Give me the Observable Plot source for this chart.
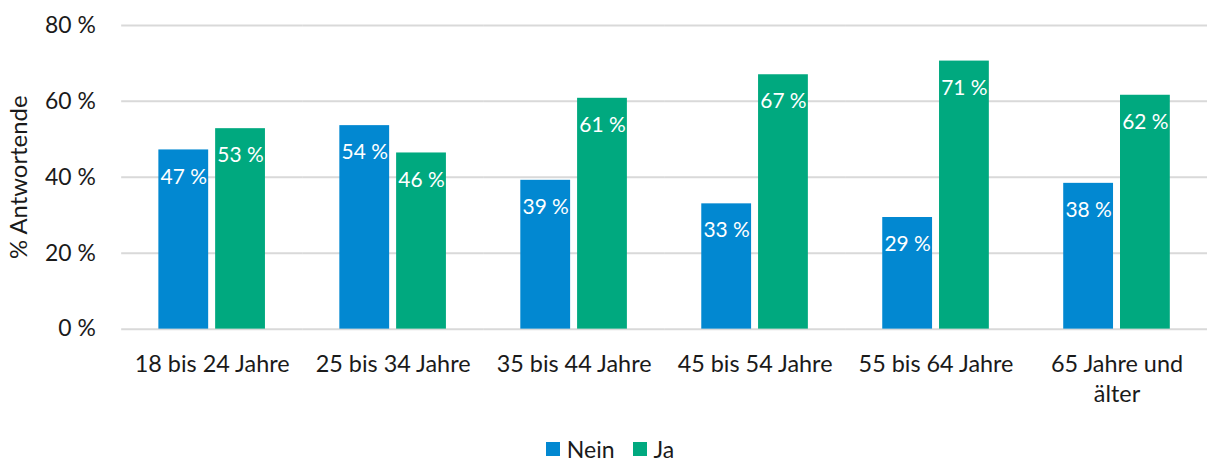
<!DOCTYPE html>
<html>
<head>
<meta charset="utf-8">
<script src="https://cdn.jsdelivr.net/npm/d3@7"></script>
<script src="https://cdn.jsdelivr.net/npm/@observablehq/plot@0.6"></script>
<style>
  html, body { margin: 0; padding: 0; background: #fff; }
  #wrap { width: 1207px; height: 464px; overflow: hidden; position: relative; font-family: Lato, sans-serif; }
  #legend { position: absolute; top: 437px; left: 0; width: 1220px; height: 24px; line-height: 24px; display: flex; justify-content: center; align-items: center; font-size: 23px; color: #1a1a1a; }
  .item { display: flex; align-items: center; margin: 0 9px; }
  .sw { width: 14px; height: 14px; margin-right: 7px; }
</style>
</head>
<body>
<div id="wrap"><div id="chart"></div><div id="legend"></div></div>
<script>
const groups = ["18 bis 24 Jahre", "25 bis 34 Jahre", "35 bis 44 Jahre", "45 bis 54 Jahre", "55 bis 64 Jahre", "65 Jahre und älter"];
const groupLabels = ["18 bis 24 Jahre", "25 bis 34 Jahre", "35 bis 44 Jahre", "45 bis 54 Jahre", "55 bis 64 Jahre", "65 Jahre und\nälter"];
const series = ["Nein", "Ja"];
const nein = [47.2, 53.6, 39.2, 33.0, 29.4, 38.4];
const ja = [52.8, 46.4, 60.8, 67.0, 70.6, 61.6];
const colors = ["#0288d1", "#00a97f"];
const yTicks = [0, 20, 40, 60, 80];

const data = [];
groups.forEach((g, i) => {
  data.push({group: g, answer: series[0], value: nein[i]});
  data.push({group: g, answer: series[1], value: ja[i]});
});

const chart = Plot.plot({
  width: 1212,
  height: 420,
  marginLeft: 121.67,
  marginRight: 0,
  marginTop: 25,
  marginBottom: 90,
  style: {fontFamily: "Lato, sans-serif", fontSize: "22px", color: "#1a1a1a", background: "#fff"},
  fx: {domain: groups, padding: 0, round: false, label: null},
  x: {domain: series, paddingInner: 0.1228, paddingOuter: 0.655, round: false, axis: null},
  y: {domain: [0, 80], label: null},
  color: {domain: series, range: colors},
  marks: [
    Plot.gridY(yTicks, {stroke: "#d9d9d9", strokeOpacity: 1, strokeWidth: 2}),
    Plot.barY(data, {fx: "group", x: "answer", y: "value", fill: "answer"}),
    Plot.text(data, {fx: "group", x: "answer", y: "value", text: d => Math.round(d.value) + " %", dy: 27, fill: "white", fontSize: 21}),
    Plot.axisY(yTicks, {tickSize: 0, tickPadding: 26, tickFormat: d => d + " %", fontSize: 23,
      label: "% Antwortende", labelAnchor: "center", labelOffset: 112, labelArrow: "none"}),
    Plot.axisFx({anchor: "bottom", tickSize: 0, tickPadding: 21, fontSize: 23.5, lineHeight: 1.3,
      tickFormat: d => groupLabels[groups.indexOf(d)]})
  ]
});
document.getElementById("chart").appendChild(chart);
// enlarge the y-axis title
chart.querySelectorAll("text").forEach(t => {
  if (t.textContent === "% Antwortende") t.setAttribute("font-size", "24");
});

const legend = document.getElementById("legend");
series.forEach((s, i) => {
  const item = document.createElement("div");
  item.className = "item";
  const sw = document.createElement("div");
  sw.className = "sw";
  sw.style.background = colors[i];
  const t = document.createElement("span");
  t.textContent = s;
  item.appendChild(sw);
  item.appendChild(t);
  legend.appendChild(item);
});
</script>
</body>
</html>
